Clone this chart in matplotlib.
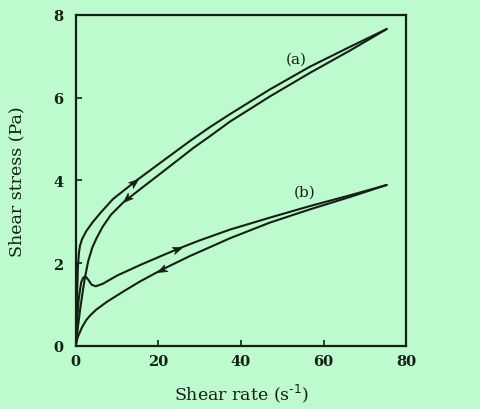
import numpy as np
import matplotlib
matplotlib.use('Agg')
import matplotlib.pyplot as plt
from matplotlib.path import Path
from matplotlib.markers import MarkerStyle
from matplotlib.transforms import Affine2D

# Curve (a): rising branch and falling branch of the loop
a_up_x = [0, 0.25, 0.5, 0.75, 1.0, 1.5, 2.5, 4.0, 6.0, 9.0, 14.7, 21.2, 27.6, 32.5, 37.3, 47.0, 56.7, 66.4, 75.3]
a_up_y = [0, 1.0, 1.9, 2.25, 2.42, 2.58, 2.77, 2.98, 3.22, 3.55, 4.0, 4.48, 4.95, 5.29, 5.60, 6.20, 6.75, 7.23, 7.66]
a_dn_x = [75.3, 66.4, 56.7, 47.0, 37.3, 32.5, 28.4, 21.2, 16.0, 11.5, 8.5, 6.5, 5.0, 4.0, 3.0, 2.2, 1.5, 1.0, 0.5, 0]
a_dn_y = [7.66, 7.14, 6.60, 6.03, 5.42, 5.07, 4.78, 4.22, 3.82, 3.47, 3.17, 2.88, 2.60, 2.38, 2.05, 1.65, 1.2, 0.85, 0.45, 0]

# Curve (b)
b_up_x = [0, 0.3, 0.7, 1.3, 1.8, 2.35, 3.0, 3.8, 4.8, 6.5, 10.0, 15.7, 21.3, 25.6, 30.0, 37.3, 47.0, 56.7, 66.4, 75.3]
b_up_y = [0, 0.6, 1.13, 1.54, 1.65, 1.68, 1.6, 1.48, 1.44, 1.5, 1.70, 1.96, 2.20, 2.38, 2.55, 2.81, 3.10, 3.38, 3.64, 3.89]
b_dn_x = [75.3, 66.4, 56.7, 47.0, 37.3, 27.6, 20.8, 15.6, 11.6, 7.6, 5.0, 3.5, 2.5, 1.5, 0.5, 0.15, 0]
b_dn_y = [3.89, 3.60, 3.30, 2.98, 2.60, 2.17, 1.84, 1.56, 1.32, 1.07, 0.88, 0.74, 0.62, 0.45, 0.22, 0.09, 0]

# arrowheads: tip position and a point behind it on the curve
tip_x = [15.1, 11.5, 25.6, 19.7]
tip_y = [4.03, 3.47, 2.38, 1.79]
back_x = [12.5, 14.0, 22.0, 23.0]
back_y = [3.82, 3.70, 2.24, 1.95]

labels = ['(a)', '(b)']
label_x = [53.5, 55.5]
label_y = [6.94, 3.73]

bg = '#bdfacd'
ink = '#151f15'

fig = plt.figure(figsize=(4.8, 4.1), dpi=100, facecolor=bg)
ax = fig.add_axes([0.158, 0.154, 0.688, 0.807])
ax.set_facecolor(bg)
ax.set_xlim(0, 80)
ax.set_ylim(0, 8)

for xs, ys in [(a_up_x, a_up_y), (a_dn_x, a_dn_y), (b_up_x, b_up_y), (b_dn_x, b_dn_y)]:
    ax.plot(xs, ys, color=ink, lw=1.5, solid_joinstyle='round', solid_capstyle='round')

# notched arrowhead, tip at origin pointing along +x
head = Path([(0, 0), (-1, 0.38), (-0.75, 0), (-1, -0.38), (0, 0)],
            [Path.MOVETO, Path.LINETO, Path.LINETO, Path.LINETO, Path.CLOSEPOLY])
for tx, ty, bx, by in zip(tip_x, tip_y, back_x, back_y):
    p1 = ax.transData.transform((bx, by))
    p2 = ax.transData.transform((tx, ty))
    ang = np.degrees(np.arctan2(p2[1] - p1[1], p2[0] - p1[0]))
    m = MarkerStyle(head, fillstyle='full', transform=Affine2D().rotate_deg(ang))
    ax.plot([tx], [ty], marker=m, ms=14, mfc=ink, mec=ink, mew=0.5, ls='none')

for t, x, y in zip(labels, label_x, label_y):
    ax.text(x, y, t, ha='center', va='center', fontsize=11, family='DejaVu Serif', color=ink)

ax.set_xticks([0, 20, 40, 60, 80])
ax.set_yticks([0, 2, 4, 6, 8])
ax.tick_params(direction='in', length=4.5, width=1.2, colors=ink,
               labelsize=10.5, top=False, right=False)
ax.tick_params(axis='y', pad=9)
ax.tick_params(axis='x', pad=6)
for lab in ax.get_xticklabels() + ax.get_yticklabels():
    lab.set_family('DejaVu Serif')
    lab.set_fontweight('bold')
for s in ax.spines.values():
    s.set_linewidth(1.6)
    s.set_color(ink)

ax.set_xlabel('Shear rate (s$^{\\text{-}1}$)', fontsize=12.5, family='DejaVu Serif', color=ink, labelpad=10)
ax.set_ylabel('Shear stress (Pa)', fontsize=12.5, family='DejaVu Serif', color=ink, labelpad=20)

fig.savefig('out.png', dpi=100, facecolor=bg)
